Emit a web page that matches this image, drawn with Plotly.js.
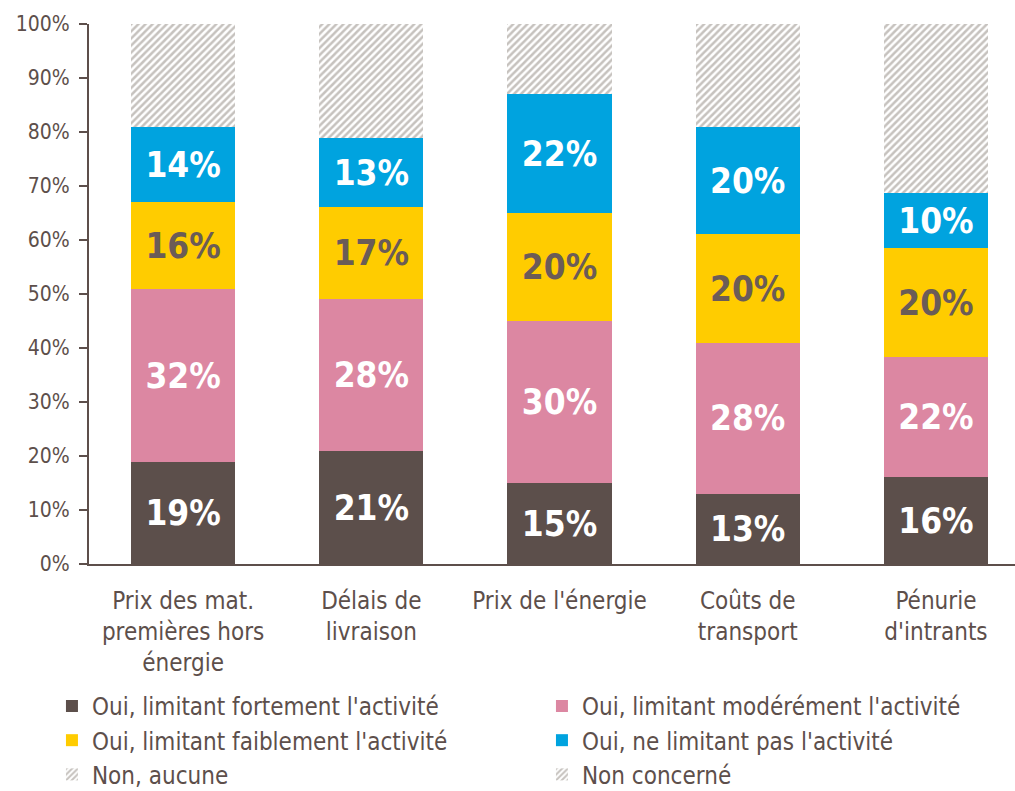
<!DOCTYPE html>
<html>
<head>
<meta charset="utf-8">
<script src="https://cdn.plot.ly/plotly-3.0.1.min.js"></script>
<style>html,body{margin:0;padding:0;background:#fff;}#chart{width:1015px;height:791px;}</style>
</head>
<body>
<div id="chart"></div>
<script>
var categories = ["Prix des mat.<br>premières hors<br>énergie", "Délais de<br>livraison", "Prix de l'énergie", "Coûts de<br>transport", "Pénurie<br>d'intrants"];
var fortement = [18.9, 20.9, 15.0, 13.0, 16.1];
var moderement = [32.0, 28.2, 30.0, 27.9, 22.2];
var faiblement = [16.1, 17.0, 20.0, 20.2, 20.2];
var pasLimitant = [13.9, 12.8, 22.0, 19.8, 10.2];
var nonAucune = [19.1, 21.1, 13.0, 19.1, 31.3];
var nonConcerne = [0, 0, 0, 0, 0];
var seriesNames = ["Oui, limitant fortement l'activité", "Oui, limitant modérément l'activité", "Oui, limitant faiblement l'activité", "Oui, ne limitant pas l'activité", "Non, aucune", "Non concerné"];
var yTickVals = [0,10,20,30,40,50,60,70,80,90,100];
var yTickText = ["0%","10%","20%","30%","40%","50%","60%","70%","80%","90%","100%"];

var FONT = "'DejaVu Sans Condensed', 'Liberation Sans Narrow', Arial, sans-serif";
var TXT = "#5d4f4b";

function bar(name, vals, color, labelColor, showText, pattern) {
  var t = {
    type: 'bar', name: name, x: categories, y: vals,
    marker: {color: color, line: {width: 0}},
    hoverinfo: 'none'
  };
  if (pattern) {
    t.marker.pattern = {shape: '/', fgcolor: '#c6c2be', bgcolor: '#ffffff', size: 5, solidity: 0.5, fillmode: 'replace'};
    t.marker.color = '#ffffff';
  }
  if (showText) {
    t.texttemplate = '%{y:.0f}%';
    t.textposition = 'inside';
    t.insidetextanchor = 'middle';
    t.textangle = 0;
    t.constraintext = 'none';
    t.insidetextfont = {family: FONT, size: 35, color: labelColor, weight: 'bold'};
  } else {
    t.textposition = 'none';
  }
  return t;
}

var data = [
  bar(seriesNames[0], fortement, '#5c4f4b', '#ffffff', true),
  bar(seriesNames[1], moderement, '#dc87a2', '#ffffff', true),
  bar(seriesNames[2], faiblement, '#ffcc00', '#6b5c57', true),
  bar(seriesNames[3], pasLimitant, '#00a3df', '#ffffff', true),
  bar(seriesNames[4], nonAucune, '#ffffff', null, false, true),
  bar(seriesNames[5], nonConcerne, '#ffffff', null, false, true)
];

var layout = {
  width: 1015, height: 791,
  margin: {l: 89, r: 0, t: 24, b: 227, autoexpand: false},
  barmode: 'stack',
  bargap: 0.447,
  paper_bgcolor: '#ffffff', plot_bgcolor: '#ffffff',
  font: {family: FONT, color: TXT, size: 24},
  showlegend: true,
  xaxis: {
    range: [-0.5, 4.42],
    showline: true, linecolor: TXT, linewidth: 2,
    ticks: '', showgrid: false, zeroline: false,
    ticklabelstandoff: 14,
    tickfont: {family: FONT, size: 24, color: TXT},
    fixedrange: true
  },
  yaxis: {
    range: [0, 100],
    tickvals: yTickVals, ticktext: yTickText,
    showline: true, linecolor: TXT, linewidth: 2,
    ticks: 'outside', ticklen: 8, tickwidth: 2, tickcolor: TXT,
    ticklabelstandoff: 5,
    showgrid: false, zeroline: false,
    tickfont: {family: FONT, size: 21, color: TXT},
    fixedrange: true
  },
  legend: {
    orientation: 'h',
    x: -0.04, xanchor: 'left',
    y: -0.222, yanchor: 'top',
    entrywidth: 445, entrywidthmode: 'pixels',
    traceorder: 'normal',
    font: {family: FONT, size: 24, color: TXT},
    itemwidth: 30,
    bgcolor: 'rgba(0,0,0,0)'
  }
};

Plotly.newPlot('chart', data, layout, {staticPlot: true, displayModeBar: false});
</script>
</body>
</html>
